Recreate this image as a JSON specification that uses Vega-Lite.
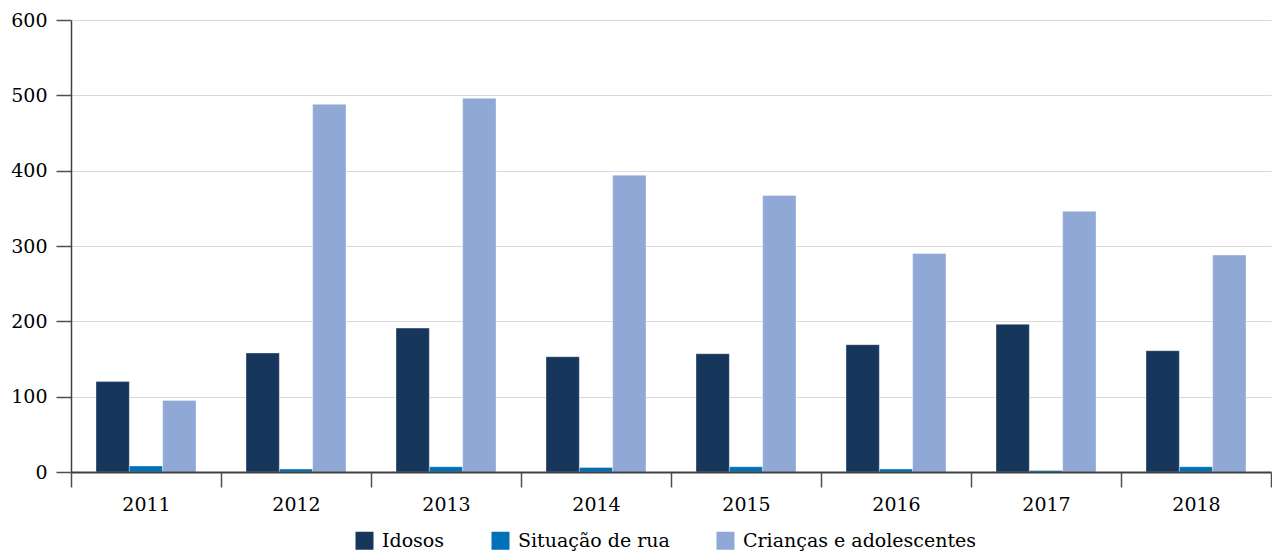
{
  "$schema": "https://vega.github.io/schema/vega-lite/v6.json",
  "width": 1200,
  "height": 452,
  "autosize": {"type": "none"},
  "padding": {"left": 71, "top": 20, "right": 1, "bottom": 86},
  "background": "#ffffff",
  "data": {
    "values": [
      {"ano": "2011", "serie": "Idosos", "valor": 120},
      {"ano": "2011", "serie": "Situação de rua", "valor": 8},
      {"ano": "2011", "serie": "Crianças e adolescentes", "valor": 95},
      {"ano": "2012", "serie": "Idosos", "valor": 158},
      {"ano": "2012", "serie": "Situação de rua", "valor": 4},
      {"ano": "2012", "serie": "Crianças e adolescentes", "valor": 488},
      {"ano": "2013", "serie": "Idosos", "valor": 191},
      {"ano": "2013", "serie": "Situação de rua", "valor": 7},
      {"ano": "2013", "serie": "Crianças e adolescentes", "valor": 496},
      {"ano": "2014", "serie": "Idosos", "valor": 153},
      {"ano": "2014", "serie": "Situação de rua", "valor": 6},
      {"ano": "2014", "serie": "Crianças e adolescentes", "valor": 394},
      {"ano": "2015", "serie": "Idosos", "valor": 157},
      {"ano": "2015", "serie": "Situação de rua", "valor": 7},
      {"ano": "2015", "serie": "Crianças e adolescentes", "valor": 367},
      {"ano": "2016", "serie": "Idosos", "valor": 169},
      {"ano": "2016", "serie": "Situação de rua", "valor": 4},
      {"ano": "2016", "serie": "Crianças e adolescentes", "valor": 290},
      {"ano": "2017", "serie": "Idosos", "valor": 196},
      {"ano": "2017", "serie": "Situação de rua", "valor": 2},
      {"ano": "2017", "serie": "Crianças e adolescentes", "valor": 346},
      {"ano": "2018", "serie": "Idosos", "valor": 161},
      {"ano": "2018", "serie": "Situação de rua", "valor": 7},
      {"ano": "2018", "serie": "Crianças e adolescentes", "valor": 288}
    ]
  },
  "mark": {"type": "bar", "stroke": "#ffffff", "strokeWidth": 0.6, "strokeOpacity": 0.6},
  "encoding": {
    "x": {
      "field": "ano",
      "type": "nominal",
      "scale": {"paddingInner": 0, "paddingOuter": 0},
      "axis": {
        "title": null,
        "orient": "bottom",
        "labelAngle": 0,
        "tickBand": "extent",
        "tickSize": 15,
        "tickColor": "#505050",
        "tickWidth": 1.5,
        "domainColor": "#404040",
        "domainWidth": 2,
        "labelFontSize": 19,
        "labelColor": "#000000",
        "labelFont": "DejaVu Serif",
        "labelPadding": 8,
        "grid": false,
        "zindex": 1
      }
    },
    "xOffset": {
      "field": "serie",
      "type": "nominal",
      "sort": ["Idosos", "Situação de rua", "Crianças e adolescentes"],
      "scale": {"paddingInner": 0, "paddingOuter": 0.75}
    },
    "y": {
      "field": "valor",
      "type": "quantitative",
      "scale": {"domain": [0, 600], "nice": false},
      "axis": {
        "title": null,
        "values": [0, 100, 200, 300, 400, 500, 600],
        "tickSize": 15,
        "tickColor": "#505050",
        "tickWidth": 1.5,
        "domainColor": "#404040",
        "domainWidth": 1.5,
        "gridColor": "#d9d9d9",
        "gridWidth": 1,
        "labelFontSize": 19,
        "labelColor": "#000000",
        "labelFont": "DejaVu Serif",
        "labelPadding": 9
      }
    },
    "color": {
      "field": "serie",
      "type": "nominal",
      "sort": ["Idosos", "Situação de rua", "Crianças e adolescentes"],
      "scale": {
        "domain": ["Idosos", "Situação de rua", "Crianças e adolescentes"],
        "range": ["#17365c", "#0070b8", "#8fa8d6"]
      },
      "legend": {
        "title": null,
        "orient": "none",
        "legendX": 284,
        "legendY": 511,
        "direction": "horizontal",
        "symbolType": "square",
        "symbolSize": 324,
        "symbolStrokeWidth": 0,
        "symbolOpacity": 1,
        "labelFontSize": 19,
        "labelFont": "DejaVu Serif",
        "labelColor": "#000000",
        "labelOffset": 8,
        "labelLimit": 500,
        "columnPadding": 46,
        "padding": 0
      }
    }
  },
  "config": {"view": {"stroke": null}, "font": "DejaVu Serif"}
}
